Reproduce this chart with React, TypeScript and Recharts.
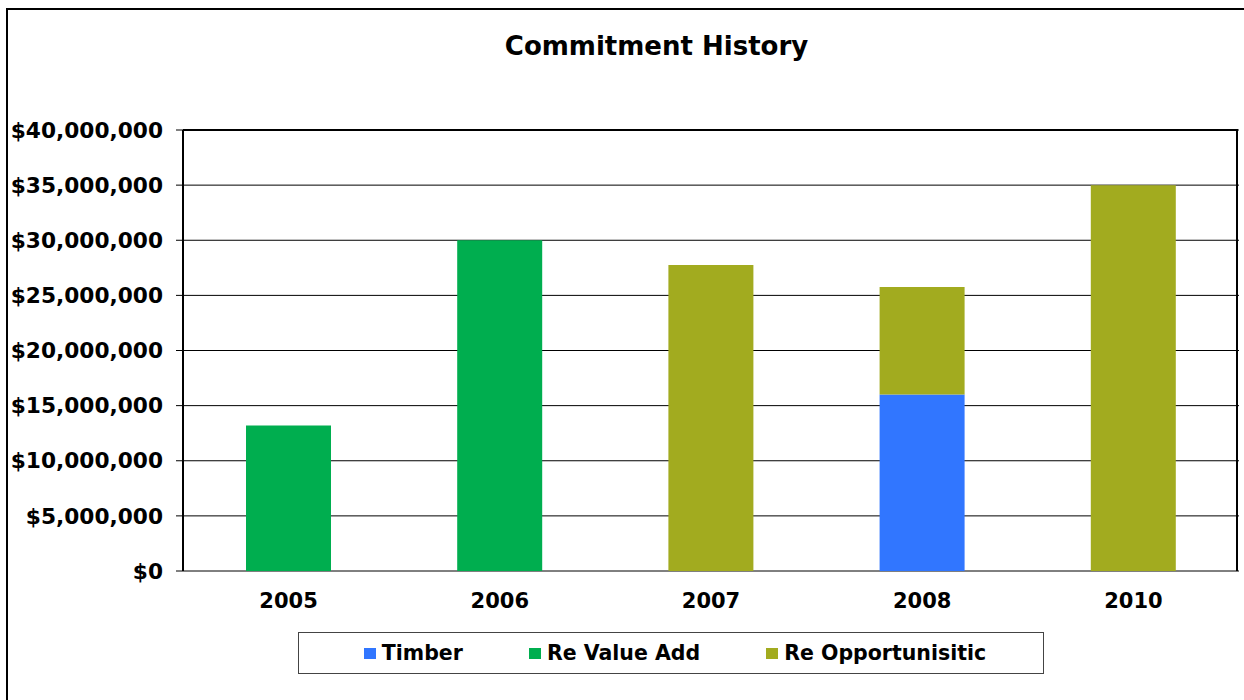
import { BarChart, Bar, XAxis, YAxis, CartesianGrid } from "recharts";

const years = ["2005", "2006", "2007", "2008", "2010"];
const timber = [0, 0, 0, 16000000, 0];
const reValueAdd = [13200000, 30000000, 0, 0, 0];
const reOpportunisitic = [0, 0, 27750000, 9750000, 35000000];
const yTicks = [0, 5000000, 10000000, 15000000, 20000000, 25000000, 30000000, 35000000, 40000000];
const edgeTicks = [0, 1, 2, 3, 4, 5];

const series = [
  { key: "timber", name: "Timber", color: "#3176FF" },
  { key: "reValueAdd", name: "Re Value Add", color: "#00AE4F" },
  { key: "reOpportunisitic", name: "Re Opportunisitic", color: "#A2AB1F" },
];

const data = years.map((year, i) => ({
  year,
  timber: timber[i],
  reValueAdd: reValueAdd[i],
  reOpportunisitic: reOpportunisitic[i],
}));

const FONT = 'Verdana, "DejaVu Sans", sans-serif';

export default function App() {
  return (
    <div
      style={{
        position: "absolute",
        left: 0,
        top: 0,
        width: 1244,
        height: 700,
        overflow: "hidden",
        background: "#fff",
        fontFamily: FONT,
        fontWeight: "bold",
      }}
    >
      {/* outer chart frame, runs off the right and bottom edges */}
      <div
        style={{
          position: "absolute",
          left: 6,
          top: 8,
          width: 1400,
          height: 800,
          border: "2px solid #000",
        }}
      />
      <div
        style={{
          position: "absolute",
          left: 0,
          top: 33,
          width: 1313,
          textAlign: "center",
          fontSize: 26,
          lineHeight: "26px",
          color: "#000",
        }}
      >
        Commitment History
      </div>

      <BarChart
        width={1244}
        height={700}
        data={data}
        margin={{ top: 130, right: 5, bottom: 89, left: 0 }}
        style={{ position: "absolute", left: 0, top: 0 }}
      >
        <CartesianGrid vertical={false} stroke="#000" strokeWidth={1} />
        <XAxis
          xAxisId={0}
          type="number"
          domain={[0, 5]}
          ticks={edgeTicks}
          allowDataOverflow
          height={0}
          tickSize={7}
          tickFormatter={() => ""}
          axisLine={{ stroke: "#000", strokeWidth: 2 }}
          tickLine={{ stroke: "#000", strokeWidth: 1 }}
        />
        <XAxis
          xAxisId="cat"
          dataKey="year"
          height={40}
          axisLine={false}
          tickLine={false}
          tickSize={0}
          tickMargin={22}
          tick={{ fill: "#000", fontSize: 21, fontWeight: "bold", fontFamily: FONT }}
        />
        <YAxis
          width={183}
          domain={[0, 40000000]}
          ticks={yTicks}
          interval={0}
          tickSize={7}
          tickMargin={13}
          axisLine={{ stroke: "#000", strokeWidth: 2 }}
          tickLine={{ stroke: "#000", strokeWidth: 1 }}
          tick={{ fill: "#000", fontSize: 21.7, fontWeight: "bold", fontFamily: FONT }}
          tickFormatter={(v: number) => `$${v.toLocaleString("en-US")}`}
        />
        {series.map((s) => (
          <Bar
            key={s.key}
            xAxisId="cat"
            dataKey={s.key}
            name={s.name}
            stackId="a"
            fill={s.color}
            barSize={85}
            isAnimationActive={false}
          />
        ))}
      </BarChart>

      {/* top and right edges of the plot area */}
      <div
        style={{
          position: "absolute",
          left: 183,
          top: 129,
          width: 1055,
          height: 442,
          borderTop: "2px solid #000",
          borderRight: "2px solid #000",
          boxSizing: "border-box",
          pointerEvents: "none",
        }}
      />

      <div
        style={{
          position: "absolute",
          left: 298,
          top: 632,
          width: 746,
          height: 42,
          boxSizing: "border-box",
          border: "1.5px solid #444",
          display: "flex",
          alignItems: "center",
          justifyContent: "center",
          paddingLeft: 8,
          gap: 66,
          fontSize: 20.5,
          color: "#000",
        }}
      >
        {series.map((s) => (
          <div key={s.key} style={{ display: "flex", alignItems: "center", gap: 6 }}>
            <div style={{ width: 12, height: 11, background: s.color }} />
            <span>{s.name}</span>
          </div>
        ))}
      </div>
    </div>
  );
}
